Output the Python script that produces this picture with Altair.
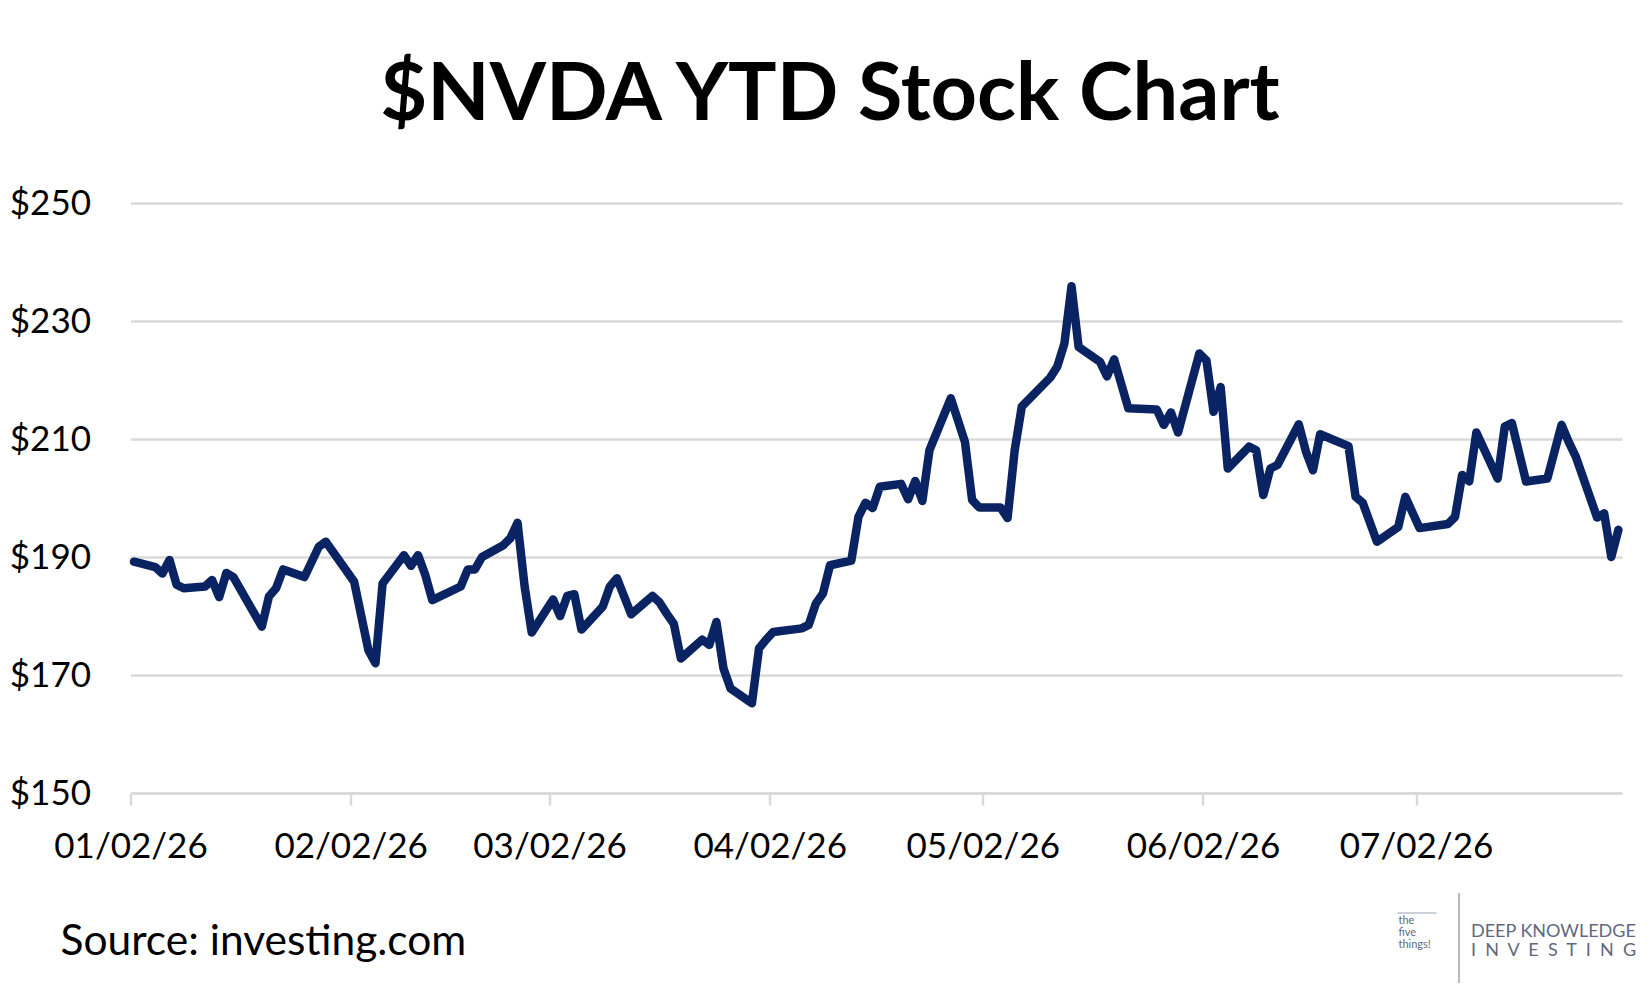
import altair as alt
import pandas as pd

# closing prices (vertices of the line only)
dates = [
    "2026-01-02", "2026-01-05", "2026-01-06", "2026-01-07", "2026-01-08", "2026-01-09",
    "2026-01-12", "2026-01-13", "2026-01-14", "2026-01-15", "2026-01-16",
    "2026-01-20", "2026-01-21", "2026-01-22", "2026-01-23",
    "2026-01-26", "2026-01-28", "2026-01-29",
    "2026-02-02", "2026-02-04", "2026-02-05", "2026-02-06",
    "2026-02-09", "2026-02-10", "2026-02-11", "2026-02-12", "2026-02-13",
    "2026-02-17", "2026-02-18", "2026-02-19", "2026-02-20",
    "2026-02-23", "2026-02-24", "2026-02-25", "2026-02-26", "2026-02-27",
    "2026-03-02", "2026-03-03", "2026-03-04", "2026-03-05", "2026-03-06",
    "2026-03-09", "2026-03-10", "2026-03-11", "2026-03-13",
    "2026-03-16", "2026-03-17", "2026-03-18", "2026-03-19", "2026-03-20",
    "2026-03-23", "2026-03-24", "2026-03-25", "2026-03-26", "2026-03-27",
    "2026-03-30", "2026-03-31", "2026-04-01", "2026-04-02",
    "2026-04-06", "2026-04-07", "2026-04-08", "2026-04-09", "2026-04-10",
    "2026-04-13", "2026-04-14", "2026-04-15", "2026-04-16", "2026-04-17",
    "2026-04-20", "2026-04-21", "2026-04-22", "2026-04-23", "2026-04-24",
    "2026-04-27", "2026-04-29", "2026-04-30", "2026-05-01",
    "2026-05-04", "2026-05-05", "2026-05-06", "2026-05-07",
    "2026-05-11", "2026-05-12", "2026-05-13", "2026-05-14", "2026-05-15",
    "2026-05-18", "2026-05-19", "2026-05-20", "2026-05-22",
    "2026-05-26", "2026-05-27", "2026-05-28", "2026-05-29",
    "2026-06-01", "2026-06-02", "2026-06-03", "2026-06-04", "2026-06-05",
    "2026-06-08", "2026-06-09", "2026-06-10", "2026-06-11", "2026-06-12",
    "2026-06-15", "2026-06-16", "2026-06-17", "2026-06-18",
    "2026-06-22", "2026-06-23", "2026-06-24", "2026-06-26",
    "2026-06-29", "2026-06-30", "2026-07-02",
    "2026-07-06", "2026-07-07", "2026-07-08", "2026-07-09", "2026-07-10",
    "2026-07-13", "2026-07-14", "2026-07-15", "2026-07-17",
    "2026-07-20", "2026-07-22", "2026-07-23", "2026-07-24",
    "2026-07-27", "2026-07-28", "2026-07-29", "2026-07-30",
]
prices = [
    189.2, 188.3, 187.2, 189.5, 185.3, 184.7,
    185.0, 186.1, 183.2, 187.3, 186.6,
    178.2, 183.3, 184.7, 187.9,
    186.6, 191.7, 192.6,
    185.8, 174.2, 172.0, 185.5,
    190.3, 188.5, 190.3, 187.0, 182.7,
    185.0, 187.9, 187.9, 190.0,
    192.0, 193.2, 195.8, 185.0, 177.2,
    182.8, 180.0, 183.4, 183.7, 177.7,
    181.6, 185.0, 186.4, 180.3,
    183.4, 182.3, 180.4, 178.7, 172.8,
    176.0, 175.1, 179.0, 171.1, 167.7,
    165.2, 174.5, 176.0, 177.3,
    177.9, 178.5, 182.1, 183.8, 188.6,
    189.4, 196.8, 199.2, 198.3, 201.9,
    202.4, 199.8, 202.9, 199.5, 208.1,
    216.9, 209.5, 199.7, 198.4,
    198.4, 196.6, 208.1, 215.5,
    220.4, 222.3, 226.2, 235.9, 225.6,
    223.1, 220.6, 223.5, 215.2,
    215.0, 212.4, 214.5, 211.1,
    224.5, 223.3, 214.6, 218.8, 205.0,
    208.7, 208.1, 200.5, 205.0, 205.6,
    212.5, 207.9, 204.7, 210.8,
    208.8, 200.2, 199.2, 192.6,
    195.1, 200.2, 194.9,
    195.6, 196.8, 203.9, 202.8, 211.1,
    203.3, 212.1, 212.7, 202.8,
    203.3, 212.4, 209.5, 207.0,
    196.7, 197.4, 190.0, 194.6,
]

tick_months = [1, 2, 3, 4, 5, 6, 7]
y_ticks = [150, 170, 190, 210, 230, 250]

NAVY = "#0a2463"
GRID = "#d9d9d9"
LOGO = "#5f6880"
FONT = "Lato"

df = pd.DataFrame({"date": dates, "price": prices})

# xOffset: like Excel's date axis, each day's point sits in the middle of its day
line = alt.Chart(df).mark_line(
    color=NAVY, strokeWidth=8.5, strokeJoin="round", strokeCap="round", xOffset=3.5
).encode(
    x=alt.X(
        "date:T",
        title="",
        scale=alt.Scale(
            type="utc",
            domain=[alt.DateTime(year=2026, month=1, date=2, utc=True),
                    alt.DateTime(year=2026, month=7, date=31, utc=True)],
        ),
        axis=alt.Axis(
            values=[alt.DateTime(year=2026, month=m, date=2, utc=True) for m in tick_months],
            format="%m/%d/%y",
            grid=False,
            domainColor=GRID, domainWidth=2.5,
            tickColor=GRID, tickWidth=2.5, tickSize=12,
            labelFont=FONT, labelFontSize=35, labelColor="#000000",
            labelPadding=24, labelFlush=False, labelOverlap=False,
        ),
    ),
    y=alt.Y(
        "price:Q",
        title="",
        scale=alt.Scale(domain=[150, 250], nice=False, zero=False),
        axis=alt.Axis(
            values=y_ticks,
            labelExpr="'$' + datum.value",
            domain=False, ticks=False,
            grid=True, gridColor=GRID, gridWidth=2.5,
            labelFont=FONT, labelFontSize=35, labelColor="#000000",
            labelPadding=40, labelOverlap=False,
        ),
    ),
)


def label(text, x, y, size, weight="normal", color="#000000", align="left"):
    return alt.Chart(pd.DataFrame({"t": [text]})).mark_text(
        font=FONT, fontSize=size, fontWeight=weight, color=color,
        align=align, baseline="alphabetic",
    ).encode(x=alt.value(x), y=alt.value(y), text="t:N")


title = label("$NVDA YTD Stock Chart", 699.5, -83, 81, weight="bold", align="center")
source = label("Source: investing.com", -70, 752, 42.5)

# little logo at the bottom right (non-breaking spaces, svg would collapse normal ones)
spaced = "\u00a0\u00a0".join("INVESTING")
sep = alt.Chart(pd.DataFrame({"a": [0]})).mark_rule(color="#9aa2b2", strokeWidth=1.5).encode(
    x=alt.value(1328.5), y=alt.value(690), y2=alt.value(780)
)
box_top = alt.Chart(pd.DataFrame({"a": [0]})).mark_rule(color="#9aa2b2", strokeWidth=1.2).encode(
    x=alt.value(1267), x2=alt.value(1306), y=alt.value(710)
)
logo = alt.layer(
    sep, box_top,
    label("the", 1268, 721, 11, color=LOGO),
    label("five", 1268, 733, 11, color=LOGO),
    label("things!", 1268, 745, 11, color=LOGO),
    label("DEEP KNOWLEDGE", 1340.5, 734, 18, color=LOGO),
    label(spaced, 1340.5, 753, 18, color=LOGO),
)

chart = alt.layer(line, title, source, logo).properties(
    width=1491.5,
    height=590,
    autosize=alt.AutoSizeParams(type="none"),
    padding={"left": 122.5, "top": 195, "right": 20, "bottom": 190},
    background="white",
).configure_view(stroke="transparent")

chart.save("out.html", embed_options={"renderer": "svg", "actions": False})
